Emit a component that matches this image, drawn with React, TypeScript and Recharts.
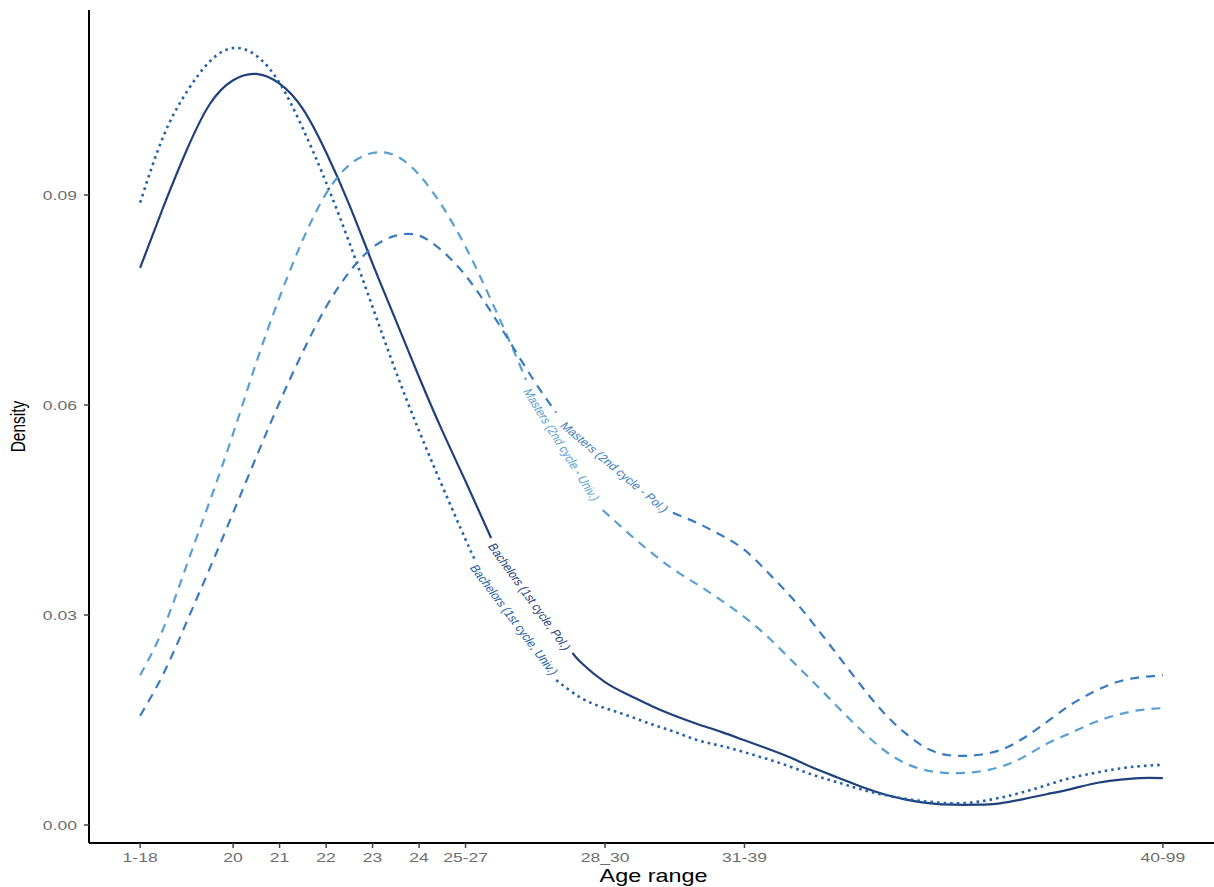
import { LineChart, Line, XAxis, YAxis, ReferenceDot } from 'recharts';

// Axis positions of the age groups and the labels printed under them
const AGE_TICKS = [18, 20, 21, 22, 23, 24, 25, 28, 31, 40];
const AGE_LABELS = ['1-18', '20', '21', '22', '23', '24', '25-27', '28_30', '31-39', '40-99'];
const DENSITY_TICKS = [0, 0.03, 0.06, 0.09];

// Density curves; null marks the break where the curve label sits
const bachPolAges = [18, 18.5, 19, 19.5, 20, 20.5, 21, 21.5, 22, 22.5, 23, 23.5, 24, 24.5, 25, 25.55, 26.4, 27.3, 27.5, 28, 28.5, 29, 29.5, 30, 30.5, 31, 31.5, 32, 32.5, 33, 33.5, 34, 34.5, 35, 35.5, 36, 36.5, 37, 37.5, 38, 38.5, 39, 39.5, 40];
const bachPolDensity = [0.0796, 0.0883, 0.0964, 0.103, 0.1064, 0.1073, 0.1059, 0.1023, 0.0961, 0.0886, 0.0802, 0.0721, 0.064, 0.0563, 0.0491, 0.041, null, 0.0246, 0.0231, 0.0204, 0.0186, 0.017, 0.0156, 0.0144, 0.0133, 0.0121, 0.0109, 0.0096, 0.0081, 0.0068, 0.0055, 0.0044, 0.0036, 0.0031, 0.0029, 0.0029, 0.0031, 0.0037, 0.0044, 0.0051, 0.0059, 0.0064, 0.0067, 0.0067];

const bachUnivAges = [18, 18.5, 19, 19.5, 20, 20.5, 21, 21.5, 22, 22.5, 23, 23.5, 24, 24.5, 25, 25.2, 26.1, 26.95, 27.5, 28, 28.5, 29, 29.5, 30, 30.5, 31, 31.5, 32, 32.5, 33, 33.5, 34, 34.5, 35, 35.5, 36, 36.5, 37, 37.5, 38, 38.5, 39, 39.5, 40];
const bachUnivDensity = [0.0889, 0.0984, 0.1047, 0.1091, 0.111, 0.1099, 0.106, 0.0995, 0.0918, 0.0832, 0.074, 0.0648, 0.0563, 0.0484, 0.0408, 0.0379, null, 0.0207, 0.0181, 0.0167, 0.0156, 0.0144, 0.0133, 0.0121, 0.0113, 0.0104, 0.0094, 0.0083, 0.0071, 0.0061, 0.0051, 0.0043, 0.0037, 0.0033, 0.0031, 0.0033, 0.0039, 0.0047, 0.0057, 0.0067, 0.0074, 0.008, 0.0084, 0.0086];

const mastUnivAges = [18, 18.5, 19, 19.5, 20, 20.5, 21, 21.5, 22, 22.5, 23, 23.5, 24, 24.5, 25, 25.5, 26, 26.3, 27.1, 27.95, 28.5, 29, 29.5, 30, 30.5, 31, 31.5, 32, 32.5, 33, 33.5, 34, 34.5, 35, 35.5, 36, 36.5, 37, 37.5, 38, 38.5, 39, 39.5, 40];
const mastUnivDensity = [0.0214, 0.0281, 0.0371, 0.0463, 0.0559, 0.0661, 0.0754, 0.0836, 0.0902, 0.0943, 0.096, 0.0956, 0.0929, 0.0884, 0.0826, 0.0757, 0.0683, 0.0636, null, 0.045, 0.0417, 0.0389, 0.0364, 0.0343, 0.0321, 0.0297, 0.0269, 0.0236, 0.0203, 0.0169, 0.0136, 0.0107, 0.0087, 0.0077, 0.0074, 0.0076, 0.0083, 0.0097, 0.0116, 0.0131, 0.0146, 0.0157, 0.0164, 0.0167];

const mastPolAges = [18, 18.5, 19, 19.5, 20, 20.5, 21, 21.5, 22, 22.5, 23, 23.5, 24, 24.5, 25, 25.5, 26, 26.5, 26.95, 28.2, 29.46, 30, 30.5, 31, 31.5, 32, 32.5, 33, 33.5, 34, 34.5, 35, 35.5, 36, 36.5, 37, 37.5, 38, 38.5, 39, 39.5, 40];
const mastPolDensity = [0.0156, 0.0216, 0.029, 0.0367, 0.0446, 0.0526, 0.0604, 0.0676, 0.074, 0.079, 0.0825, 0.0842, 0.0842, 0.082, 0.0785, 0.0738, 0.0685, 0.0632, 0.0589, null, 0.0446, 0.0431, 0.0414, 0.0393, 0.0361, 0.0326, 0.0286, 0.0243, 0.02, 0.016, 0.0129, 0.0107, 0.0099, 0.01, 0.0107, 0.0124, 0.0147, 0.0171, 0.019, 0.0204, 0.0211, 0.0214];

const FONT = "'Liberation Sans', Arial, Helvetica, sans-serif";
// text in this figure is drawn wider than it is tall
const STRETCH = 1.3;
const TICK_GREY = '#6e6e6e';

const zip = (ages: number[], dens: (number | null)[]) =>
  ages.map((age, i) => ({ age, density: dens[i] }));

const SERIES = [
  {
    name: 'Bachelors (1st cycle, Pol.)',
    data: zip(bachPolAges, bachPolDensity),
    color: '#1f407a',
    dash: undefined as string | undefined,
    width: 2.2,
    labelAt: { age: 26.37, density: 0.0326, angle: 60.8 },
  },
  {
    name: 'Bachelors (1st cycle, Univ.)',
    data: zip(bachUnivAges, bachUnivDensity),
    color: '#2462a8',
    dash: '2.6 4',
    width: 2.6,
    labelAt: { age: 26.04, density: 0.0293, angle: 59.9 },
  },
  {
    name: 'Masters (2nd cycle - Univ.)',
    data: zip(mastUnivAges, mastUnivDensity),
    color: '#58a0d3',
    dash: '9 7',
    width: 2.2,
    labelAt: { age: 27.06, density: 0.0543, angle: 64.3 },
  },
  {
    name: 'Masters (2nd cycle - Pol.)',
    data: zip(mastPolAges, mastPolDensity),
    color: '#3a7bbf',
    dash: '9 7',
    width: 2.2,
    labelAt: { age: 28.2, density: 0.0511, angle: 47.5 },
  },
];

// eslint-disable-next-line @typescript-eslint/no-explicit-any
function XTick({ x, y, payload }: any) {
  const idx = AGE_TICKS.indexOf(payload.value);
  return (
    <g transform={`translate(${x},${y})`}>
      <text
        transform={`scale(${STRETCH},1)`}
        textAnchor="middle"
        dy="0.71em"
        fill={TICK_GREY}
        fontSize={13.5}
        fontFamily={FONT}
      >
        {AGE_LABELS[idx] ?? payload.value}
      </text>
    </g>
  );
}

// eslint-disable-next-line @typescript-eslint/no-explicit-any
function YTick({ x, y, payload }: any) {
  return (
    <g transform={`translate(${x},${y})`}>
      <text
        transform={`scale(${STRETCH},1)`}
        textAnchor="end"
        dy="0.355em"
        fill={TICK_GREY}
        fontSize={13.5}
        fontFamily={FONT}
      >
        {Number(payload.value).toFixed(2)}
      </text>
    </g>
  );
}

// eslint-disable-next-line @typescript-eslint/no-explicit-any
function XTitle({ viewBox }: any) {
  const vb = viewBox ?? { x: 89, y: 843, width: 1125, height: 44 };
  return (
    <text
      transform={`translate(${vb.x + vb.width / 2 + 2},${vb.y + 39}) scale(${STRETCH},1)`}
      textAnchor="middle"
      fill="#000"
      fontSize={18}
      fontFamily={FONT}
    >
      Age range
    </text>
  );
}

// eslint-disable-next-line @typescript-eslint/no-explicit-any
function YTitle({ viewBox }: any) {
  const vb = viewBox ?? { x: 0, y: 10, width: 89, height: 833 };
  return (
    <text
      transform={`translate(${vb.x + 25},${vb.y + vb.height / 2}) scale(${STRETCH},1) rotate(-90)`}
      textAnchor="middle"
      fill="#000"
      fontSize={15.5}
      fontFamily={FONT}
    >
      Density
    </text>
  );
}

// Label set into the gap of its curve
function CurveLabel({ cx, cy, text, color, angle }: { cx: number; cy: number; text: string; color: string; angle: number }) {
  return (
    <text
      transform={`translate(${cx},${cy}) scale(${STRETCH},1) rotate(${angle})`}
      textAnchor="middle"
      dominantBaseline="central"
      fill={color}
      fontSize={10.4}
      fontFamily={FONT}
    >
      {text}
    </text>
  );
}

export default function App() {
  return (
    <div style={{ position: 'absolute', left: 0, top: 0, background: '#fff' }}>
      <LineChart width={1214} height={887} margin={{ top: 10, right: 0, bottom: 0, left: 0 }}>
        <XAxis
          dataKey="age"
          type="number"
          domain={[16.9, 41.1]}
          ticks={AGE_TICKS}
          interval={0}
          allowDataOverflow
          height={44}
          tickSize={5}
          tickMargin={4}
          tick={<XTick />}
          axisLine={{ stroke: '#000', strokeWidth: 2 }}
          tickLine={{ stroke: '#444', strokeWidth: 1.5 }}
          label={<XTitle />}
        />
        <YAxis
          type="number"
          domain={[-0.00257, 0.11643]}
          ticks={DENSITY_TICKS}
          interval={0}
          allowDataOverflow
          width={89}
          tickSize={5}
          tickMargin={7}
          tick={<YTick />}
          axisLine={{ stroke: '#000', strokeWidth: 2 }}
          tickLine={{ stroke: '#444', strokeWidth: 1.5 }}
          label={<YTitle />}
        />
        {SERIES.map((s) => (
          <Line
            key={s.name}
            data={s.data}
            dataKey="density"
            name={s.name}
            type="natural"
            stroke={s.color}
            strokeWidth={s.width}
            strokeDasharray={s.dash}
            dot={false}
            activeDot={false}
            connectNulls={false}
            isAnimationActive={false}
          />
        ))}
        {SERIES.map((s) => (
          <ReferenceDot
            key={`${s.name}-label`}
            x={s.labelAt.age}
            y={s.labelAt.density}
            r={0}
            ifOverflow="visible"
            // eslint-disable-next-line @typescript-eslint/no-explicit-any
            shape={(p: any) => (
              <CurveLabel cx={p.cx} cy={p.cy} text={s.name} color={s.color} angle={s.labelAt.angle} />
            )}
          />
        ))}
      </LineChart>
    </div>
  );
}
